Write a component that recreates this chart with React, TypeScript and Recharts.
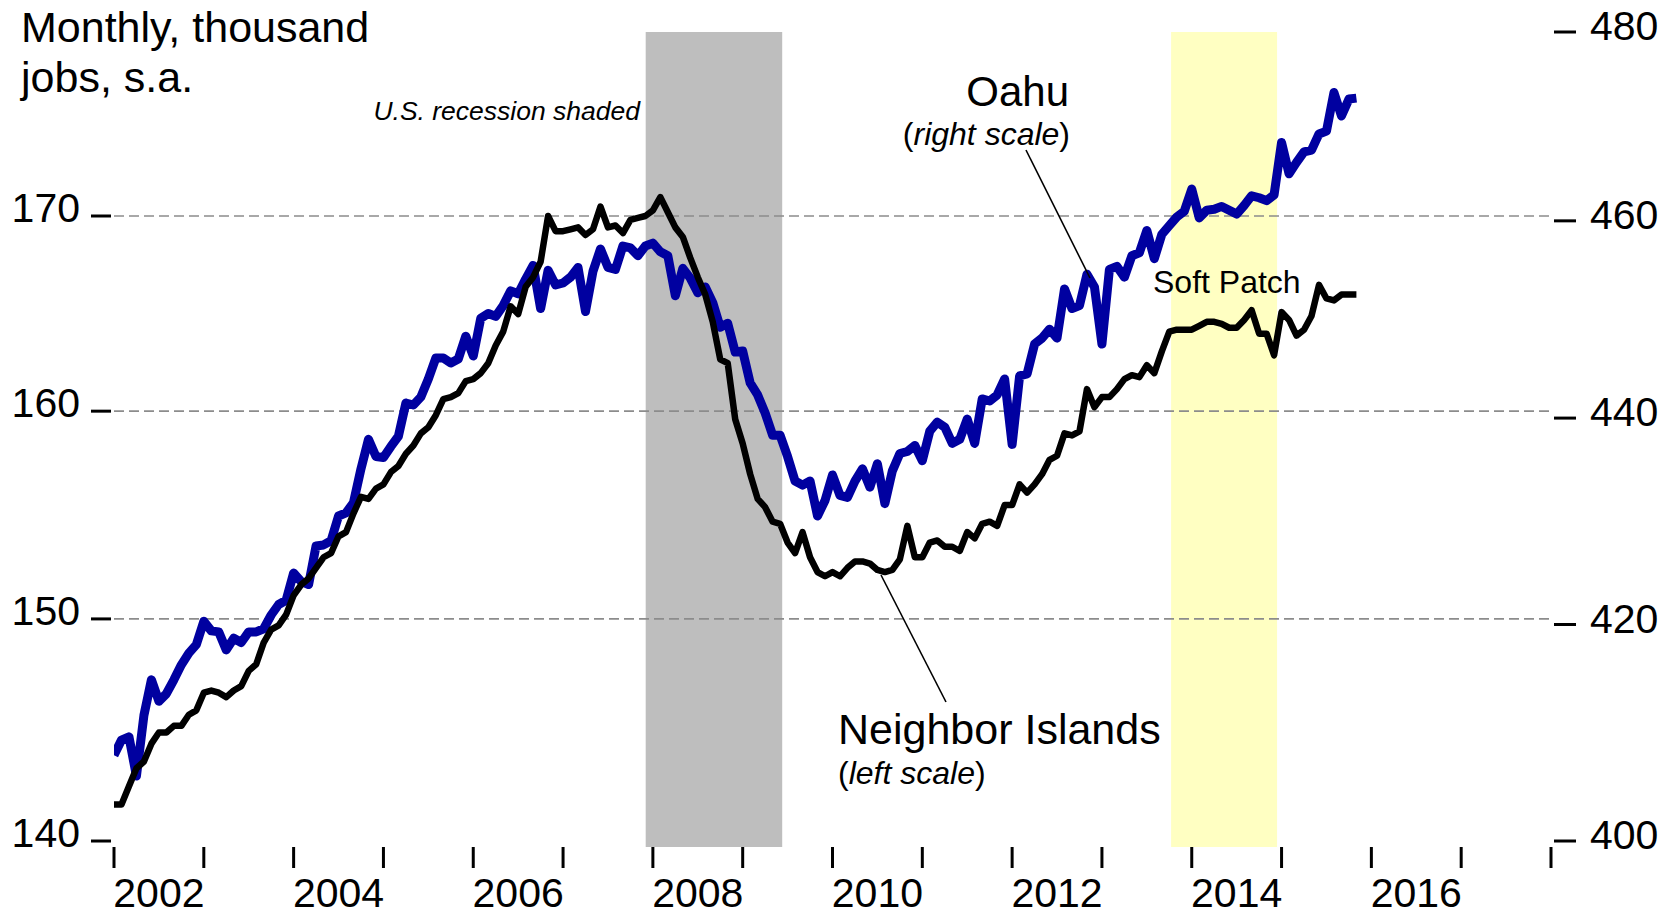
import React from 'react';
import { LineChart, Line, XAxis, YAxis, ReferenceArea, ReferenceLine } from 'recharts';

const FONT = '"Liberation Sans", Arial, Helvetica, sans-serif';

// Monthly, Jan 2002 onward
const startYear = 2002;

// Neighbor Islands (left scale), thousand jobs
const neighborIslands = [
  141.6, 141.6, 142.4, 143.2, 143.5, 144.3, 144.8, 144.8, 145.1, 145.1, 145.6, 145.8,
  146.6, 146.7, 146.6, 146.4, 146.7, 146.9, 147.6, 147.9, 148.9, 149.5, 149.7, 150.2,
  151.1, 151.6, 151.9, 152.4, 152.9, 153.1, 153.9, 154.1, 155.0, 155.8, 155.7, 156.2,
  156.4, 157.0, 157.3, 157.9, 158.3, 158.9, 159.2, 159.8, 160.6, 160.7, 160.9, 161.5,
  161.6, 161.9, 162.4, 163.3, 164.0, 165.3, 164.9, 166.3, 166.8, 167.6, 170.0, 169.2,
  169.2, 169.3, 169.4, 169.0, 169.3, 170.5, 169.4, 169.5, 169.1, 169.8, 169.9, 170.0,
  170.3, 171.0, 170.2, 169.4, 168.9, 167.8, 166.8, 165.9, 164.5, 162.6, 162.4, 159.6,
  158.4, 156.9, 155.7, 155.3, 154.6, 154.5, 153.6, 153.1, 154.1, 152.9, 152.2, 152.0,
  152.2, 152.0, 152.4, 152.7, 152.7, 152.6, 152.3, 152.2, 152.3, 152.8, 154.4, 152.9,
  152.9, 153.6, 153.7, 153.4, 153.4, 153.2, 154.1, 153.8, 154.5, 154.6, 154.4, 155.4,
  155.4, 156.4, 156.0, 156.4, 156.9, 157.6, 157.8, 158.9, 158.8, 159.0, 161.1, 160.2,
  160.7, 160.7, 161.1, 161.6, 161.8, 161.7, 162.3, 161.9, 163.0, 164.0, 164.1, 164.1,
  164.1, 164.3, 164.5, 164.5, 164.4, 164.2, 164.2, 164.6, 165.1, 163.9, 163.9, 162.8,
  165.0, 164.6, 163.8, 164.1, 164.8, 166.4, 165.7, 165.6, 165.9, 165.9, 165.9,
];

// Oahu (right scale), thousand jobs
const oahu = [
  407.8, 409.2, 409.5, 405.9, 411.5, 414.8, 412.8, 413.5, 414.8, 416.2, 417.3, 418.1,
  420.3, 419.4, 419.3, 417.6, 418.7, 418.3, 419.3, 419.3, 419.6, 420.9, 421.9, 422.3,
  424.9, 424.1, 423.8, 427.5, 427.6, 428.0, 430.4, 430.7, 431.7, 435.0, 437.9, 436.2,
  436.1, 437.2, 438.2, 441.5, 441.3, 442.1, 443.9, 446.0, 446.0, 445.5, 445.9, 448.2,
  446.2, 450.0, 450.5, 450.2, 451.3, 452.8, 452.5, 454.0, 455.4, 451.0, 454.9, 453.4,
  453.6, 454.2, 455.2, 450.7, 454.8, 457.1, 455.2, 455.0, 457.4, 457.2, 456.4, 457.4,
  457.7, 456.8, 456.4, 452.3, 455.1, 454.1, 452.6, 453.2, 451.6, 449.1, 449.5, 446.6,
  446.7, 443.5, 442.3, 440.5, 438.3, 438.3, 436.2, 433.8, 433.4, 433.8, 430.4, 431.9,
  434.4, 432.4, 432.2, 433.8, 435.0, 433.2, 435.5, 431.6, 434.8, 436.5, 436.7, 437.3,
  435.8, 438.7, 439.6, 439.1, 437.5, 437.9, 439.9, 437.5, 441.9, 441.7, 442.3, 443.9,
  437.4, 444.2, 444.4, 447.4, 448.0, 448.9, 448.0, 453.0, 451.0, 451.3, 454.5, 453.2,
  447.4, 455.0, 455.3, 454.2, 456.4, 456.7, 459.0, 456.1, 458.6, 459.5, 460.4, 461.0,
  463.3, 460.3, 461.1, 461.2, 461.5, 461.1, 460.7, 461.6, 462.6, 462.4, 462.1, 462.7,
  468.2, 464.9, 466.1, 467.2, 467.4, 469.1, 469.4, 473.5, 471.0, 472.8, 472.9,
];

const leftTicks = [140, 150, 160, 170];
const rightTicks = [400, 420, 440, 460, 480];
const gridValues = [150, 160, 170];
const yearTicks = [2002, 2003, 2004, 2005, 2006, 2007, 2008, 2009, 2010, 2011, 2012, 2013, 2014, 2015, 2016, 2017, 2018];
const yearLabels = [2002, 2004, 2006, 2008, 2010, 2012, 2014, 2016];
const recession = [2007.92, 2009.44];
const softPatch = [2013.77, 2014.95];
const leftDomain = [139.74, 180];
const rightDomain = [399.46, 480];

const data = neighborIslands.map((v, i) => ({
  t: startYear + i / 12,
  ni: v,
  oahu: oahu[i],
}));

const xTicks = [...yearTicks, ...yearLabels.map((y) => y + 0.5)].sort((a, b) => a - b);

const LeftTick = (props: any) => {
  const { x, y, payload } = props;
  return (
    <g>
      <line x1={x - 23} x2={x - 3} y1={y} y2={y} stroke="#000" strokeWidth={3} />
      <text x={x - 34} y={y + 6} textAnchor="end" fontSize={41} fontFamily={FONT} fill="#000">
        {payload.value}
      </text>
    </g>
  );
};

const RightTick = (props: any) => {
  const { x, y, payload } = props;
  return (
    <g>
      <line x1={x + 3} x2={x + 25} y1={y} y2={y} stroke="#000" strokeWidth={3} />
      <text x={x + 39} y={y + 8} textAnchor="start" fontSize={41} fontFamily={FONT} fill="#000">
        {payload.value}
      </text>
    </g>
  );
};

const XTick = (props: any) => {
  const { x, y, payload } = props;
  const v = payload.value;
  if (Number.isInteger(v)) {
    return <line x1={x} x2={x} y1={y} y2={y + 21} stroke="#000" strokeWidth={3} />;
  }
  return (
    <text x={x} y={y + 60} textAnchor="middle" fontSize={41} fontFamily={FONT} fill="#000">
      {Math.floor(v)}
    </text>
  );
};

export default function App() {
  return (
    <div style={{ position: 'absolute', left: 0, top: 0, width: 1674, height: 915, background: '#fff' }}>
      <LineChart width={1674} height={915} data={data} margin={{ top: 32, right: 0, bottom: 0, left: 0 }}>
        <XAxis
          dataKey="t"
          type="number"
          domain={[2002, 2018]}
          ticks={xTicks}
          interval={0}
          axisLine={false}
          tickLine={false}
          tickSize={0}
          tickMargin={0}
          height={68}
          tick={<XTick />}
          allowDataOverflow
        />
        <YAxis
          yAxisId="left"
          orientation="left"
          scale="log"
          domain={leftDomain}
          ticks={leftTicks}
          interval={0}
          width={114}
          axisLine={false}
          tickLine={false}
          tickSize={0}
          tickMargin={0}
          tick={<LeftTick />}
          allowDataOverflow
        />
        <YAxis
          yAxisId="right"
          orientation="right"
          scale="log"
          domain={rightDomain}
          ticks={rightTicks}
          interval={0}
          width={123}
          axisLine={false}
          tickLine={false}
          tickSize={0}
          tickMargin={0}
          tick={<RightTick />}
          allowDataOverflow
        />
        <ReferenceArea yAxisId="left" x1={recession[0]} x2={recession[1]} fill="#bebebe" fillOpacity={1} stroke="none" />
        <ReferenceArea yAxisId="left" x1={softPatch[0]} x2={softPatch[1]} fill="#ffffc2" fillOpacity={1} stroke="none" />
        {gridValues.map((g) => (
          <ReferenceLine key={g} yAxisId="left" y={g} stroke="#8c8c8c" strokeWidth={1.7} strokeDasharray="10 5" />
        ))}
        <Line
          yAxisId="right"
          dataKey="oahu"
          type="linear"
          stroke="#0000a0"
          strokeWidth={9}
          strokeLinejoin="round"
          dot={false}
          activeDot={false}
          isAnimationActive={false}
        />
        <Line
          yAxisId="left"
          dataKey="ni"
          type="linear"
          stroke="#000000"
          strokeWidth={6.5}
          strokeLinejoin="round"
          dot={false}
          activeDot={false}
          isAnimationActive={false}
        />
      </LineChart>
      <svg width={1674} height={915} style={{ position: 'absolute', left: 0, top: 0, pointerEvents: 'none' }}>
        <g fontFamily={FONT} fill="#000">
          <text x={21} y={42} fontSize={43}>Monthly, thousand</text>
          <text x={21} y={92} fontSize={43}>jobs, s.a.</text>
          <text x={640} y={120} fontSize={26.5} fontStyle="italic" textAnchor="end">U.S. recession shaded</text>
          <text x={1069} y={106} fontSize={42} textAnchor="end">Oahu</text>
          <text x={1070} y={145} fontSize={32} textAnchor="end">
            (<tspan fontStyle="italic">right scale</tspan>)
          </text>
          <text x={1153} y={293} fontSize={32}>Soft Patch</text>
          <text x={838} y={744} fontSize={43}>Neighbor Islands</text>
          <text x={838} y={784} fontSize={32}>
            (<tspan fontStyle="italic">left scale</tspan>)
          </text>
        </g>
        <line x1={1026} y1={150} x2={1090} y2={278} stroke="#000" strokeWidth={1.6} />
        <line x1={881} y1={575} x2={946} y2={702} stroke="#000" strokeWidth={1.6} />
      </svg>
    </div>
  );
}
